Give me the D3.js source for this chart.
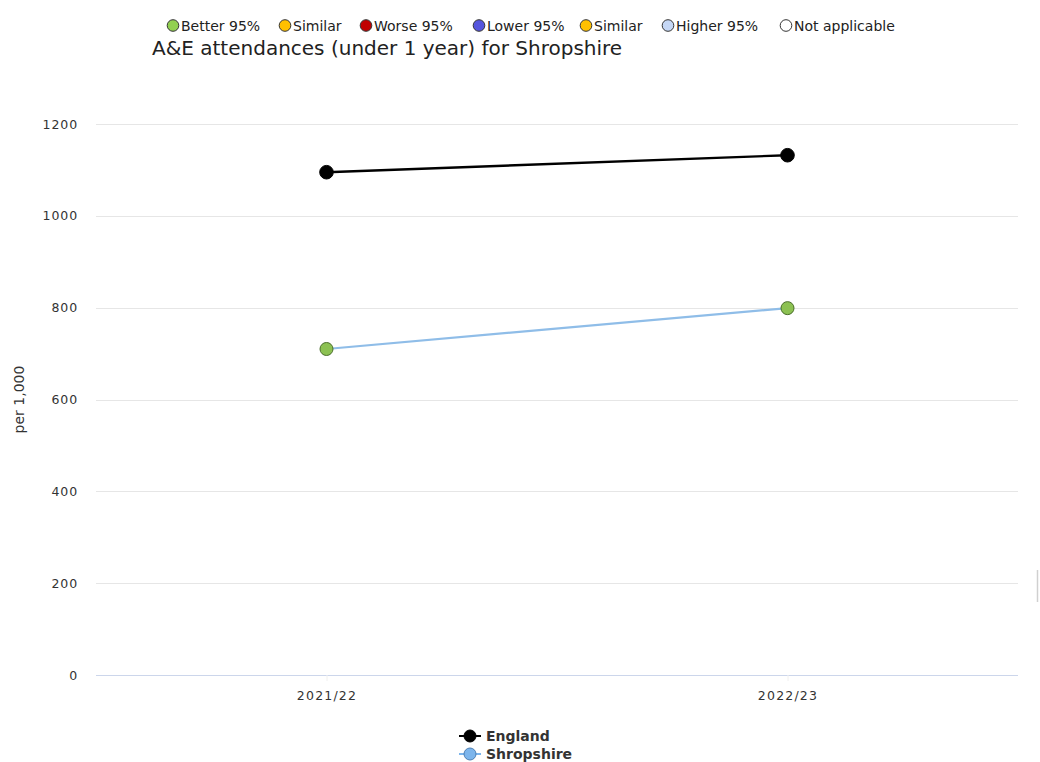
<!DOCTYPE html>
<html><head><meta charset="utf-8">
<script src="https://cdn.jsdelivr.net/npm/d3@7"></script>
<style>body{margin:0;background:#fff;} svg{display:block;font-family:"DejaVu Sans",sans-serif;}</style>
</head><body>
<svg id="c" width="1040" height="762"></svg>
<script>
const categories = ["2021/22", "2022/23"];
const englandValues = [1095, 1132];
const shropshireValues = [710, 799];
const yTicks = [0, 200, 400, 600, 800, 1000, 1200];
const keyLabels = ["Better 95%", "Similar", "Worse 95%", "Lower 95%", "Similar", "Higher 95%", "Not applicable"];
const keyColors = ["#92d050", "#ffc000", "#c00000", "#5555dd", "#ffc000", "#c5d7f5", "#ffffff"];
const seriesNames = ["England", "Shropshire"];

const svg = d3.select("#c");
const plotL = 96, plotR = 1018, plotT = 124, plotB = 675;

const x = d3.scalePoint().domain(categories).range([plotL, plotR]).padding(0.5);
const y = d3.scaleLinear().domain([0, 1200]).range([plotB, plotT]);

// gridlines
svg.append("g").selectAll("line").data(yTicks.filter(d => d > 0)).join("line")
  .attr("x1", plotL).attr("x2", plotR)
  .attr("y1", d => Math.round(y(d)) + 0.5).attr("y2", d => Math.round(y(d)) + 0.5)
  .attr("stroke", "#e6e6e6").attr("stroke-width", 1);

// y axis
const yAxis = svg.append("g").attr("transform", `translate(${plotL},0)`)
  .call(d3.axisLeft(y).tickValues(yTicks).tickFormat(d3.format("d")).tickSize(0).tickPadding(18));
yAxis.select(".domain").remove();
yAxis.selectAll("text").attr("font-size", 12.5).attr("letter-spacing", 0.9).attr("fill", "#333")
  .attr("font-family", "DejaVu Sans");

// x axis
const xAxis = svg.append("g").attr("transform", `translate(0,${plotB})`)
  .call(d3.axisBottom(x).tickSize(6).tickPadding(10).tickSizeOuter(0));
xAxis.select(".domain").attr("d", `M${plotL},0.5H${plotR}`).attr("stroke", "#ccd6eb");
xAxis.selectAll(".tick line").attr("stroke", "#f0f0f0");
xAxis.selectAll("text").attr("font-size", 12.5).attr("letter-spacing", 1.2).attr("fill", "#333")
  .attr("font-family", "DejaVu Sans");

// y axis label
svg.append("text").attr("transform", `translate(24,${(plotT + plotB) / 2}) rotate(-90)`)
  .attr("text-anchor", "middle").attr("font-size", 14).attr("fill", "#333").text("per 1,000");

// lines
const line = d3.line().x((d, i) => x(categories[i])).y(d => y(d));
svg.append("path").datum(shropshireValues).attr("d", line)
  .attr("fill", "none").attr("stroke", "#8fbde8").attr("stroke-width", 2.2);
svg.append("path").datum(englandValues).attr("d", line)
  .attr("fill", "none").attr("stroke", "#000").attr("stroke-width", 2.4);

// markers
svg.append("g").selectAll("circle").data(englandValues).join("circle")
  .attr("cx", (d, i) => x(categories[i])).attr("cy", d => y(d)).attr("r", 6.8)
  .attr("fill", "#000").attr("stroke", "#000").attr("stroke-width", 1);
svg.append("g").selectAll("circle").data(shropshireValues).join("circle")
  .attr("cx", (d, i) => x(categories[i])).attr("cy", d => y(d)).attr("r", 6.5)
  .attr("fill", "#8cc152").attr("stroke", "#4a6e2a").attr("stroke-width", 1);

// top key
const keyX = [173, 285, 366, 479, 586, 668, 786];
const key = svg.append("g");
keyLabels.forEach((lab, i) => {
  key.append("circle").attr("cx", keyX[i]).attr("cy", 25.5).attr("r", 5.8)
    .attr("fill", keyColors[i]).attr("stroke", "#333").attr("stroke-width", 1);
  key.append("text").attr("x", keyX[i] + 8).attr("y", 31).attr("font-size", 14)
    .attr("fill", "#222").text(lab);
});

// title
svg.append("text").attr("x", 152).attr("y", 55).attr("font-size", 20).attr("fill", "#222")
  .text("A&E attendances (under 1 year) for Shropshire");

// bottom legend
const legColors = [["#000", "#000"], ["#7cb5ec", "#4d7fb3"]];
seriesNames.forEach((name, i) => {
  const cy = 736 + i * 18;
  const g = svg.append("g");
  g.append("line").attr("x1", 459).attr("x2", 481).attr("y1", cy).attr("y2", cy)
    .attr("stroke", i === 0 ? "#000" : "#7cb5ec").attr("stroke-width", 2);
  g.append("circle").attr("cx", 470).attr("cy", cy).attr("r", 6)
    .attr("fill", legColors[i][0]).attr("stroke", legColors[i][1]).attr("stroke-width", 1);
  g.append("text").attr("x", 486).attr("y", cy + 5).attr("font-size", 14).attr("font-weight", "bold")
    .attr("fill", "#333").text(name);
});

// faint scrollbar edge at right
svg.append("line").attr("x1", 1037.5).attr("x2", 1037.5).attr("y1", 570).attr("y2", 602)
  .attr("stroke", "#d0d0d0").attr("stroke-width", 1.5);
</script>
</body></html>
